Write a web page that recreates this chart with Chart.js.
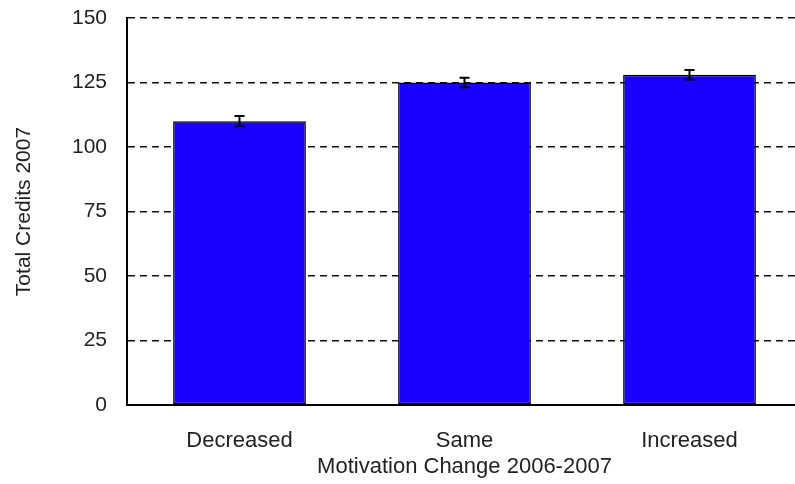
<!DOCTYPE html>
<html><head><meta charset="utf-8">
<script src="https://cdn.jsdelivr.net/npm/chart.js@4"></script>
<style>html,body{margin:0;padding:0;overflow:hidden;background:#fff}#wrap{width:802px;height:484px;position:relative}</style>
</head><body><div id="wrap"><canvas id="c" width="802" height="484"></canvas></div>
<script>
const categories = ['Decreased', 'Same', 'Increased'];
const credits = [110, 125, 128];
const errors = [2, 1.8, 1.8];
const yMin = 0, yMax = 150, yStep = 25;
const xTitle = 'Motivation Change 2006-2007';
const yTitle = 'Total Credits 2007';

const errorBars = {
  id: 'errorBars',
  afterDatasetsDraw(chart) {
    const ctx = chart.ctx;
    const meta = chart.getDatasetMeta(0);
    const y = chart.scales.y;
    ctx.save();
    ctx.strokeStyle = '#000';
    ctx.lineWidth = 2;
    meta.data.forEach((bar, i) => {
      const v = credits[i], e = errors[i];
      const yt = y.getPixelForValue(v + e), yb = y.getPixelForValue(v - e);
      ctx.beginPath();
      ctx.moveTo(bar.x, yt); ctx.lineTo(bar.x, yb);
      ctx.moveTo(bar.x - 5, yt); ctx.lineTo(bar.x + 5, yt);
      ctx.moveTo(bar.x - 5, yb); ctx.lineTo(bar.x + 5, yb);
      ctx.stroke();
    });
    ctx.restore();
  }
};

const fam = 'Liberation Sans, Arial, sans-serif';
const yFont = { family: fam, size: 21 };
const xFont = { family: fam, size: 22 };
const txt = '#222';
new Chart(document.getElementById('c'), {
  type: 'bar',
  data: {
    labels: categories,
    datasets: [{
      data: credits,
      backgroundColor: 'rgb(26,0,255)',
      borderColor: '#000',
      borderWidth: 1.5,
      borderSkipped: false,
      barPercentage: 0.59,
      categoryPercentage: 1
    }]
  },
  options: {
    responsive: false,
    animation: false,
    devicePixelRatio: 1,
    layout: { padding: { top: 18, left: 0, right: 0, bottom: 0 } },
    plugins: { legend: { display: false }, tooltip: { enabled: false } },
    scales: {
      x: {
        afterFit(s) { s.height = 79; s.paddingLeft = 0; s.paddingRight = 0; },
        grid: { display: false, drawTicks: false },
        border: { display: true, color: '#000', width: 2 },
        ticks: { color: txt, font: xFont, padding: 23 },
        title: { display: true, text: xTitle, color: txt, font: xFont, padding: { top: 0, bottom: 4 } }
      },
      y: {
        min: yMin, max: yMax,
        afterFit(s) { s.width = 127; s.paddingTop = 0; s.paddingBottom = 0; },
        grid: { color: '#111', lineWidth: 1.6, drawTicks: false },
        border: { display: true, color: '#000', width: 2, dash: [7, 5] },
        ticks: { stepSize: yStep, color: txt, font: yFont, padding: 20 },
        title: { display: true, text: yTitle, color: txt, font: yFont, padding: { top: 12, bottom: 0 } }
      }
    }
  },
  plugins: [errorBars]
});
</script></body></html>
